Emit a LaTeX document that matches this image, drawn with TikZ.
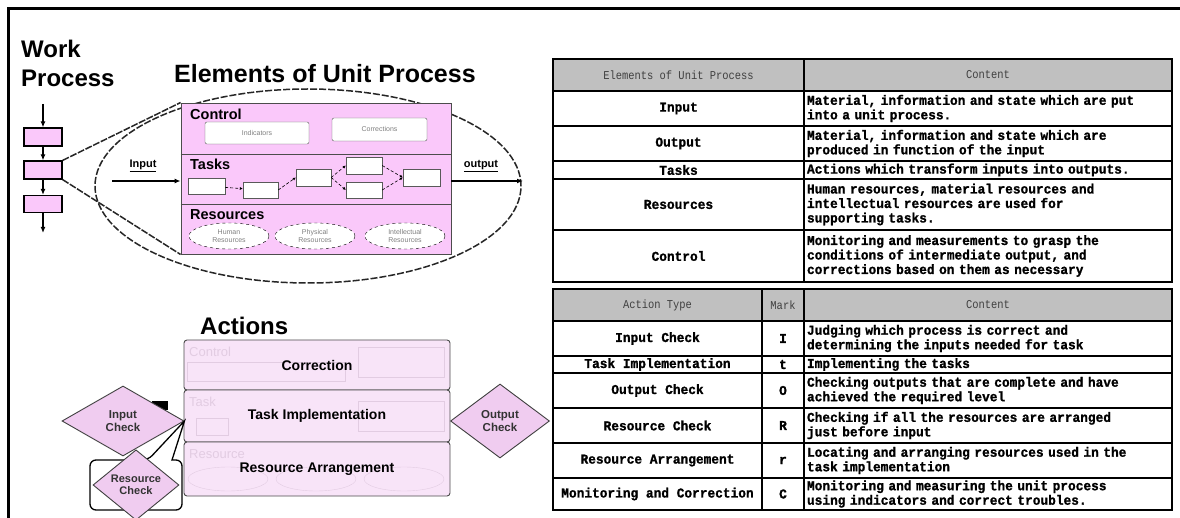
\documentclass[tikz,border=0pt]{standalone}
\usepackage{fontspec}
\setmainfont{Liberation Sans}
\newfontfamily\cellfont[FakeStretch=0.95, BoldFeatures={FakeBold=1.2}]{Liberation Mono}
\newfontfamily\headfont[FakeStretch=0.87]{Liberation Mono}
\usetikzlibrary{shapes.geometric,arrows.meta}

\definecolor{procpink}{RGB}{250,200,250}
\definecolor{actpink}{RGB}{248,228,248}
\definecolor{diapink}{RGB}{240,204,240}
\definecolor{ghost}{RGB}{226,204,226}
\definecolor{hdrgray}{RGB}{192,192,192}

\begin{document}
\begin{tikzpicture}[x=1pt,y=-1pt,
  bigtitle/.style={font=\bfseries\fontsize{24}{26}\selectfont, inner sep=0pt, anchor=base west},
  wpbox/.style={draw, line width=1.2pt, fill=procpink, minimum width=38pt, minimum height=18pt, inner sep=0pt},
  flow/.style={-{Latex[length=6pt,width=5pt]}, line width=1.3pt},
  zoomline/.style={line width=1.5pt, dash pattern=on 7pt off 1.5pt, black!85},
  seclabel/.style={font=\bfseries\fontsize{14.5}{16}\selectfont, anchor=west, inner sep=0pt},
  ctrlbox/.style={draw=gray!70!black, fill=white, rounded corners=2pt, inner sep=0pt, font=\fontsize{7}{8}\selectfont, text=gray},
  taskbox/.style={draw=gray!70!black, fill=white, inner sep=0pt},
  taskarrow/.style={-{Latex[length=3pt,width=3pt]}, densely dashed, line width=0.6pt},
  resell/.style={ellipse, draw, dashed, fill=white, minimum width=80pt, minimum height=26pt, inner sep=0pt, font=\fontsize{7}{7.5}\selectfont, text=gray, align=center},
  io/.style={font=\bfseries\fontsize{11}{12}\selectfont, inner sep=0pt},
  actrow/.style={draw=gray!60!black, fill=actpink, rounded corners=3pt, line width=0.9pt, minimum width=266pt, inner sep=0pt},
  acttext/.style={font=\bfseries\fontsize{14}{16}\selectfont},
  ghosttext/.style={font=\fontsize{13}{14}\selectfont, text=ghost, anchor=west, inner sep=0pt},
  dia/.style={diamond, draw=black!75, fill=diapink, line width=0.9pt, inner sep=0pt, align=center, font=\bfseries\fontsize{11.5}{13}\selectfont, text=black!80},
  calloutline/.style={draw, line width=1.3pt, fill=white},
  tc/.style={draw, line width=2.2pt, inner sep=0pt, outer sep=0pt},
  hd/.style={tc, fill=hdrgray, font=\headfont\fontsize{12}{13}\selectfont, text=black!75},
  lb/.style={tc, fill=white, align=center, font=\cellfont\bfseries\fontsize{13.5}{14.5}\selectfont},
  ct/.style={tc, fill=white, align=left, text width=362pt, inner xsep=3pt, minimum width=368pt, font=\cellfont\bfseries\fontsize{13.5}{14.5}\selectfont}
]
\useasboundingbox (0,0) rectangle (1180,518);
\fill[white] (0,0) rectangle (1180,518);

% outer frame
\draw[line width=3pt] (8.5,518) -- (8.5,8.5) -- (1180,8.5);

% ---------- work process chain ----------
\node (wk) [bigtitle] at (21,58) {Work};
\node (pr) [bigtitle] at (21,87) {Process};
\node (wb1) [wpbox] at (43,137) {};
\node (wb2) [wpbox] at (43,170) {};
\node (wb3) [wpbox, minimum height=17pt] at (43,204) {};
\coordinate (wp0) at (43,104);
\coordinate (wp4) at (43,233);
\draw[flow] (wp0) -- (wb1);
\draw[flow] (wb1) -- (wb2);
\draw[flow] (wb2) -- (wb3);
\draw[flow] (wb3) -- (wp4);

% ---------- elements of unit process ----------
\node (eltitle) [bigtitle, font=\bfseries\fontsize{25}{27}\selectfont] at (174,83) {Elements of Unit Process};
\node (unit) [ellipse, draw=black!85, line width=1.5pt, dash pattern=on 7pt off 2pt,
  minimum width=426pt, minimum height=194pt, inner sep=0pt] at (308,186) {};
\node (ubox) [draw=gray!60!black, fill=procpink, line width=0.9pt, minimum width=270pt, minimum height=151pt, inner sep=0pt] at (316,178.5) {};
\draw[zoomline] (wb2.north east) -- (ubox.north west);
\draw[zoomline] (wb2.south east) -- (ubox.south west);
\draw[gray!60!black, line width=0.9pt] (ubox.west |- 0,154) -- (ubox.east |- 0,154);
\draw[gray!60!black, line width=0.9pt] (ubox.west |- 0,204) -- (ubox.east |- 0,204);

\node (lctrl) [seclabel] at (190,114) {Control};
\node (ltask) [seclabel] at (190,164) {Tasks};
\node (lres) [seclabel] at (190,215) {Resources};

\node (ind) [ctrlbox, minimum width=104pt, minimum height=22pt] at (257,133) {Indicators};
\node (cor) [ctrlbox, minimum width=95pt, minimum height=23pt] at (379.5,129.5) {Corrections};

\node (t1) [taskbox, minimum width=37pt, minimum height=16pt] at (206.5,186) {};
\node (t2) [taskbox, minimum width=35pt, minimum height=16pt] at (260.5,190) {};
\node (t3) [taskbox, minimum width=35pt, minimum height=17pt] at (313.5,177.5) {};
\node (t4) [taskbox, minimum width=36pt, minimum height=17pt] at (364,165.5) {};
\node (t5) [taskbox, minimum width=36pt, minimum height=16pt] at (364,190) {};
\node (t6) [taskbox, minimum width=37pt, minimum height=17pt] at (421.5,177.5) {};
\draw[taskarrow] (t1) -- (t2);
\draw[taskarrow] (t2.east) -- (t3.west);
\draw[taskarrow] (t3.east) -- (t4.west);
\draw[taskarrow] (t3.east) -- (t5.west);
\draw[taskarrow] (t4.east) -- (t6.west);
\draw[taskarrow] (t5.east) -- (t6.west);

\node (hr) [resell] at (229,236) {Human\\Resources};
\node (phr) [resell] at (315,236) {Physical\\Resources};
\node (ir) [resell] at (405,236) {Intellectual\\Resources};

\node (inlbl) [io] at (143,166) {\underline{Input}};
\node (outlbl) [io] at (481,166) {\underline{output}};
\coordinate (inS) at (112,181);
\coordinate (outE) at (523,181);
\draw[flow] (inS) -- (inS -| ubox.west);
\draw[flow] (outE -| ubox.east) -- (outE);

% ---------- actions ----------
\node (acttitle) [bigtitle] at (200,335) {Actions};
\node (ac1) [actrow, minimum height=50pt] at (317,365) {};
\node (ac2) [actrow, minimum height=52pt] at (317,416) {};
\node (ac3) [actrow, minimum height=54pt] at (317,469) {};

% faded background content of the rows
\node (gc) [ghosttext] at (189,352) {Control};
\node (gt) [ghosttext] at (189,402) {Task};
\node (gr) [ghosttext] at (189,454) {Resource};
\node (gcb1) [draw=ghost, minimum width=158pt, minimum height=19pt, inner sep=0pt] at (266,372) {};
\node (gcb2) [draw=ghost, minimum width=86pt, minimum height=30pt, inner sep=0pt] at (401,362) {};
\node (gtb1) [draw=ghost, minimum width=32pt, minimum height=17pt, inner sep=0pt] at (212,427) {};
\node (gtb2) [draw=ghost, minimum width=86pt, minimum height=30pt, inner sep=0pt] at (401,416) {};
\node (gre1) [ellipse, draw=ghost, minimum width=80pt, minimum height=24pt, inner sep=0pt] at (228,479) {};
\node (gre2) [ellipse, draw=ghost, minimum width=80pt, minimum height=24pt, inner sep=0pt] at (316,479) {};
\node (gre3) [ellipse, draw=ghost, minimum width=80pt, minimum height=24pt, inner sep=0pt] at (404,479) {};

\node (ac1t) [acttext] at (ac1) {Correction};
\node (ac2t) [acttext] at (ac2) {Task Implementation};
\node (ac3t) [acttext] at (ac3) {Resource Arrangement};

\fill (152,401) rectangle (168,410);
\node (idia) [dia, minimum width=122pt, minimum height=70pt] at (123,421) {Input\\Check};
\node (odia) [dia, minimum width=99pt, minimum height=74pt] at (500,421) {Output\\Check};

\draw[calloutline] (172,460) [rounded corners=6pt] -- (182,460) -- (182,510) -- (90,510) -- (90,460) -- (148,460) [sharp corners] -- (idia.east) -- cycle;
\node (rdia) [dia, minimum width=86pt, minimum height=48pt, font=\bfseries\fontsize{11}{12.5}\selectfont] at (136,485) {Resource\\Check};

% ---------- table: elements of unit process ----------
\node (eh1) [hd, minimum width=251pt, minimum height=32pt] at (678.5,75) {Elements of Unit Process};
\node (eh2) [hd, minimum width=368pt, minimum height=32pt] at (988,75) {Content};

\node (e1a) [lb, minimum width=251pt, minimum height=35pt] at (678.5,108.5) {Input};
\node (e1b) [ct, minimum height=35pt] at (988,108.5) {Material, information and state which are put\\into a unit process.};
\node (e2a) [lb, minimum width=251pt, minimum height=35pt] at (678.5,143.5) {Output};
\node (e2b) [ct, minimum height=35pt] at (988,143.5) {Material, information and state which are\\produced in function of the input};
\node (e3a) [lb, minimum width=251pt, minimum height=18pt] at (678.5,170) {Tasks};
\node (e3b) [ct, minimum height=18pt] at (988,170) {Actions which transform inputs into outputs.};
\node (e4a) [lb, minimum width=251pt, minimum height=51pt] at (678.5,204.5) {Resources};
\node (e4b) [ct, minimum height=51pt] at (988,204.5) {Human resources, material resources and\\intellectual resources are used for\\supporting tasks.};
\node (e5a) [lb, minimum width=251pt, minimum height=52pt] at (678.5,256) {Control};
\node (e5b) [ct, minimum height=52pt] at (988,256) {Monitoring and measurements to grasp the\\conditions of intermediate output, and\\corrections based on them as necessary};

% ---------- table: action types ----------
\node (ah1) [hd, minimum width=209pt, minimum height=32pt] at (657.5,305) {Action Type};
\node (ah2) [hd, minimum width=42pt, minimum height=32pt] at (783,305) {Mark};
\node (ah3) [hd, minimum width=368pt, minimum height=32pt] at (988,305) {Content};

\node (a1a) [lb, minimum width=209pt, minimum height=35pt] at (657.5,338.5) {Input Check};
\node (a1b) [lb, minimum width=42pt, minimum height=35pt] at (783,338.5) {I};
\node (a1c) [ct, minimum height=35pt] at (988,338.5) {Judging which process is correct and\\determining the inputs needed for task};
\node (a2a) [lb, minimum width=209pt, minimum height=17pt] at (657.5,364.5) {Task Implementation};
\node (a2b) [lb, minimum width=42pt, minimum height=17pt] at (783,364.5) {t};
\node (a2c) [ct, minimum height=17pt] at (988,364.5) {Implementing the tasks};
\node (a3a) [lb, minimum width=209pt, minimum height=35pt] at (657.5,390.5) {Output Check};
\node (a3b) [lb, minimum width=42pt, minimum height=35pt] at (783,390.5) {O};
\node (a3c) [ct, minimum height=35pt] at (988,390.5) {Checking outputs that are complete and have\\achieved the required level};
\node (a4a) [lb, minimum width=209pt, minimum height=35pt] at (657.5,425.5) {Resource Check};
\node (a4b) [lb, minimum width=42pt, minimum height=35pt] at (783,425.5) {R};
\node (a4c) [ct, minimum height=35pt] at (988,425.5) {Checking if all the resources are arranged\\just before input};
\node (a5a) [lb, minimum width=209pt, minimum height=35pt] at (657.5,460.5) {Resource Arrangement};
\node (a5b) [lb, minimum width=42pt, minimum height=35pt] at (783,460.5) {r};
\node (a5c) [ct, minimum height=35pt] at (988,460.5) {Locating and arranging resources used in the\\task implementation};
\node (a6a) [lb, minimum width=209pt, minimum height=32pt] at (657.5,494) {Monitoring and Correction};
\node (a6b) [lb, minimum width=42pt, minimum height=32pt] at (783,494) {C};
\node (a6c) [ct, minimum height=32pt] at (988,494) {Monitoring and measuring the unit process\\using indicators and correct troubles.};
\end{tikzpicture}
\end{document}
